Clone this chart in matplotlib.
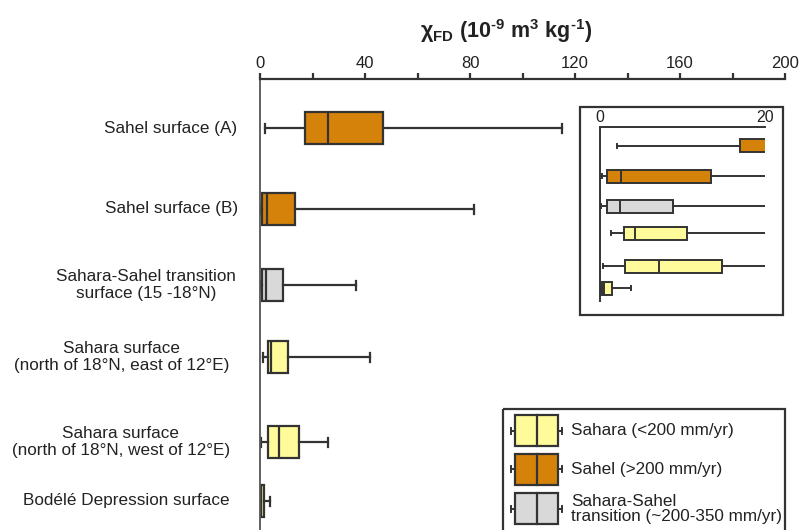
import matplotlib
matplotlib.use("Agg")
import matplotlib.pyplot as plt
from matplotlib.patches import Rectangle

plt.rcParams['font.family'] = ['Liberation Sans', 'DejaVu Sans']
plt.rcParams['mathtext.fontset'] = 'custom'
plt.rcParams['mathtext.rm'] = 'Liberation Sans:bold'
plt.rcParams['mathtext.it'] = 'Liberation Sans:italic:bold'
plt.rcParams['mathtext.bf'] = 'Liberation Sans:bold'

# ---- data ----
labels = ["Sahel surface (A)", "Sahel surface (B)",
          "Sahara-Sahel transition\nsurface (15 -18°N)",
          "Sahara surface\n(north of 18°N, east of 12°E)",
          "Sahara surface\n(north of 18°N, west of 12°E)",
          "Bodélé Depression surface"]
groups = ["Sahel", "Sahel", "Transition", "Sahara", "Sahara", "Sahara"]
whislo = [2.0, 0.2, 0.1, 1.3, 0.4, 0.05]
q1 = [17.0, 0.8, 0.8, 2.9, 3.0, 0.2]
med = [26.0, 2.5, 2.4, 4.3, 7.2, 0.5]
q3 = [47.0, 13.5, 8.8, 10.5, 14.8, 1.4]
whishi = [115.0, 81.5, 36.5, 42.0, 25.8, 3.8]
main_ticks = [0, 40, 80, 120, 160, 200]
inset_ticks = [0, 20]
legend_labels = ["Sahara (<200 mm/yr)", "Sahel (>200 mm/yr)",
                 "Sahara-Sahel\ntransition (~200-350 mm/yr)"]
legend_groups = ["Sahara", "Sahel", "Transition"]

# ---- styling / layout ----
colors = {"Sahel": "#D4820A", "Sahara": "#FFFA9A", "Transition": "#D9D9D9"}
edge = "#333333"
W, H = 801, 530
main_rows = [128, 209, 285, 357, 442, 501]
inset_rows = [145.7, 176, 206, 233.3, 266, 288]
label_x = [171, 172, 146, 121.5, 121, 126]

fig = plt.figure(figsize=(W / 100, H / 100), dpi=100)

def fx(px):
    return px / W

def fy(py):
    return 1 - py / H

stats = [dict(whislo=a, q1=b, med=c, q3=d, whishi=e, fliers=[])
         for a, b, c, d, e in zip(whislo, q1, med, q3, whishi)]


def draw_boxes(ax, positions, width, capw, lw):
    kw = dict(positions=positions, widths=width, patch_artist=True,
              showfliers=False, capwidths=capw,
              boxprops=dict(edgecolor=edge, linewidth=lw),
              medianprops=dict(color=edge, linewidth=lw),
              whiskerprops=dict(color=edge, linewidth=lw),
              capprops=dict(color=edge, linewidth=lw))
    try:
        res = ax.bxp(stats, orientation='horizontal', **kw)
    except TypeError:
        res = ax.bxp(stats, vert=False, **kw)
    for patch, g in zip(res['boxes'], groups):
        patch.set_facecolor(colors[g])
    return res

# main axes
ax = fig.add_axes([fx(260), 0, fx(785) - fx(260), fy(79)])
ax.set_xlim(0, 200)
ax.set_ylim(H, 79)
draw_boxes(ax, main_rows, 32, 9, 1.6)
ax.spines['right'].set_visible(False)
ax.spines['bottom'].set_visible(False)
ax.spines['top'].set_color(edge)
ax.spines['top'].set_linewidth(1.6)
ax.spines['left'].set_color('#555555')
ax.spines['left'].set_linewidth(1.3)
ax.xaxis.set_ticks_position('top')
ax.set_xticks(range(0, 201, 20))
ax.set_xticklabels([str(t) if t in main_ticks else "" for t in range(0, 201, 20)])
ax.tick_params(axis='x', direction='out', length=4, width=1.6, color=edge,
               labelsize=12, pad=2, labelcolor='#222222')
ax.set_yticks([])
ax.patch.set_alpha(0)

for lab, yy, xx in zip(labels, main_rows, label_x):
    fig.text(fx(xx), fy(yy), lab, ha='center', va='center', fontsize=12.3,
             color='#222222', linespacing=1.15)

fig.text(fx(506), fy(31),
         'χ$_{\\rm FD}$ (10$^{\\text{-9}}$ m$^{\\text{3}}$ kg$^{\\text{-1}}$)',
         ha='center', va='center', fontsize=15.5, fontweight='bold',
         color='#222222')

# inset
ins = fig.add_axes([fx(600), fy(300.7), fx(765) - fx(600), fy(126.7) - fy(300.7)])
ins.set_xlim(0, 20)
ins.set_ylim(300.7, 126.7)
draw_boxes(ins, inset_rows, 13, 4, 1.4)
ins.spines['right'].set_visible(False)
ins.spines['bottom'].set_visible(False)
for s in ('top', 'left'):
    ins.spines[s].set_color(edge)
    ins.spines[s].set_linewidth(1.4)
ins.xaxis.set_ticks_position('top')
ins.set_xticks(inset_ticks)
ins.tick_params(axis='x', length=0, labelsize=11.5, pad=1, labelcolor='#222222')
ins.set_yticks([])
ins.patch.set_alpha(0)

# overlay for frames and legend
ov = fig.add_axes([0, 0, 1, 1])
ov.set_xlim(0, W)
ov.set_ylim(H, 0)
ov.axis('off')
ov.patch.set_alpha(0)
ov.add_patch(Rectangle((580, 106.7), 203.3, 208.3, fill=False,
                       edgecolor=edge, linewidth=1.6))
ov.add_patch(Rectangle((502.7, 409.3), 282.3, 140, fill=False,
                       edgecolor=edge, linewidth=1.6, clip_on=False))
leg_rows = [430.7, 469.3, 508.5]
for yy, g, lab in zip(leg_rows, legend_groups, legend_labels):
    ov.plot([510.7, 515], [yy, yy], color=edge, lw=1.4)
    ov.plot([558.3, 561.7], [yy, yy], color=edge, lw=1.4)
    ov.plot([510.7, 510.7], [yy - 3, yy + 3], color=edge, lw=1.4)
    ov.plot([561.7, 561.7], [yy - 3, yy + 3], color=edge, lw=1.4)
    ov.add_patch(Rectangle((515, yy - 15.5), 43.3, 31, facecolor=colors[g],
                           edgecolor=edge, linewidth=1.6))
    ov.plot([536.7, 536.7], [yy - 15.5, yy + 15.5], color=edge, lw=1.6)
    ov.text(571, yy, lab, ha='left', va='center', fontsize=12.3,
            color='#222222', linespacing=1.0)

fig.savefig("out.png", dpi=100)
